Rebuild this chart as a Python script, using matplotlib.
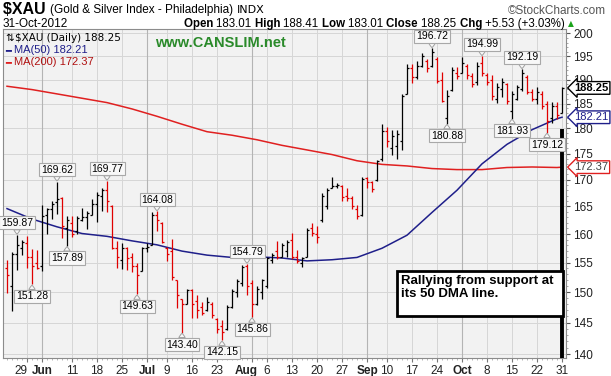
import numpy as np
import pandas as pd
import matplotlib
matplotlib.use("Agg")
import matplotlib.pyplot as plt
import matplotlib.transforms as mtransforms
from matplotlib.patches import Rectangle
from matplotlib.ticker import FixedLocator, FixedFormatter, NullFormatter

# TRADING DAYS 22-May-2012 .. 31-Oct-2012
holidays = ["2012-05-28", "2012-07-04", "2012-09-03", "2012-10-29", "2012-10-30"]
days = pd.bdate_range("2012-05-22", "2012-10-31")
days = days[~days.isin(pd.to_datetime(holidays))]

opens = [154.0, 151.0, 156.5, 157.5, 158.5, 156.0, 155.0, 154.5, 163.5, 164.5,
         165.8, 166.5, 161.0, 162.0, 160.5, 162.5, 163.0, 163.5, 165.5, 167.0,
         168.0, 165.0, 157.5, 155.5, 157.5, 156.0, 154.5, 153.5, 157.5, 158.0,
         163.5, 162.0, 157.5, 157.0, 152.0, 148.8, 148.0, 150.3, 148.5, 147.5,
         147.0, 148.0, 145.5, 144.5, 144.0, 147.5, 150.0, 151.5, 154.5, 151.5,
         148.0, 150.0, 151.0, 155.5, 157.0, 156.0, 157.0, 159.0, 156.0, 155.0,
         156.0, 161.0, 160.0, 162.5, 165.0, 168.5, 168.8, 168.8, 167.0, 166.5,
         164.5, 163.5, 170.3, 169.5, 170.0, 174.0, 179.5, 176.0, 176.5, 177.5,
         187.0, 192.5, 190.5, 193.0, 194.0, 193.0, 194.5, 190.0, 182.0, 187.8,
         191.5, 191.5, 193.0, 190.8, 189.5, 193.5, 191.0, 190.0, 186.0, 188.0,
         189.0, 183.5, 186.0, 188.0, 190.5, 187.5, 186.0, 187.0, 185.0, 182.0,
         184.5, 183.01]
highs = [155.4, 156.9, 159.87, 158.9, 159.7, 157.3, 157.2, 165.3, 164.7, 166.0,
         169.62, 166.7, 163.3, 163.3, 163.3, 164.7, 164.2, 166.3, 167.7, 168.4,
         169.77, 165.2, 158.8, 158.5, 157.7, 156.6, 154.9, 157.8, 158.4, 163.9,
         164.08, 162.2, 157.8, 159.1, 152.0, 148.9, 150.6, 150.6, 149.5, 148.4,
         149.2, 148.4, 145.7, 145.4, 147.9, 150.6, 152.2, 154.6, 154.79, 152.0,
         151.0, 152.2, 156.0, 156.6, 158.8, 158.5, 158.9, 160.2, 157.2, 156.0,
         161.1, 162.0, 161.5, 167.5, 168.4, 170.5, 169.3, 169.0, 168.4, 167.0,
         165.3, 170.5, 170.5, 169.8, 173.8, 180.8, 180.3, 179.6, 179.6, 186.9,
         193.3, 193.3, 194.0, 195.6, 194.5, 196.72, 194.9, 191.7, 187.8, 192.6,
         192.6, 194.9, 193.3, 191.3, 193.7, 194.99, 191.3, 190.9, 189.3, 190.3,
         189.2, 187.6, 188.9, 192.19, 190.9, 188.1, 188.5, 187.6, 185.5, 185.3,
         185.3, 188.41]
lows = [149.9, 146.9, 153.8, 156.3, 154.1, 151.28, 153.9, 153.6, 160.0, 162.7,
        163.7, 159.3, 157.89, 159.5, 160.0, 162.4, 160.9, 163.4, 162.2, 164.2,
        164.0, 157.4, 154.1, 153.9, 153.8, 153.4, 149.63, 153.5, 156.9, 158.0,
        160.6, 158.5, 155.3, 152.0, 147.3, 143.40, 148.0, 145.7, 145.7, 146.3,
        146.8, 145.7, 143.3, 142.15, 143.8, 147.4, 149.2, 151.0, 149.5, 145.86,
        147.9, 148.9, 150.7, 154.9, 155.6, 156.0, 156.0, 155.6, 154.9, 154.3,
        156.0, 159.7, 158.5, 162.2, 164.5, 168.4, 168.4, 166.0, 166.0, 164.5,
        162.7, 163.3, 168.4, 167.7, 169.8, 173.5, 176.3, 174.7, 173.9, 175.6,
        186.9, 189.3, 190.1, 192.6, 191.7, 192.6, 189.3, 185.3, 180.88, 187.6,
        190.1, 191.3, 190.1, 188.5, 188.9, 190.8, 188.9, 185.7, 185.2, 186.4,
        184.9, 181.93, 185.7, 187.6, 186.9, 185.5, 185.0, 183.9, 179.12, 181.0,
        181.8, 183.01]
closes = [152.8, 156.5, 158.0, 158.6, 156.0, 154.5, 154.0, 163.3, 164.5, 165.5,
          166.4, 161.5, 162.5, 160.0, 162.8, 163.0, 163.8, 165.5, 167.2, 168.0,
          166.0, 157.6, 156.0, 157.6, 155.8, 154.5, 152.8, 157.5, 157.8, 163.5,
          162.5, 158.6, 156.5, 152.5, 149.5, 148.0, 150.4, 148.0, 147.0, 146.6,
          148.3, 146.2, 144.0, 143.5, 147.5, 150.2, 151.8, 154.3, 151.0, 148.0,
          150.5, 152.0, 155.8, 156.3, 156.0, 158.0, 158.6, 156.0, 155.3, 155.8,
          160.8, 160.2, 159.5, 167.0, 168.0, 168.8, 169.0, 166.8, 166.5, 165.0,
          163.2, 170.2, 169.5, 168.3, 173.5, 179.5, 177.5, 178.5, 178.8, 186.5,
          192.5, 190.5, 193.0, 195.0, 192.5, 196.0, 189.8, 185.5, 186.5, 192.0,
          190.8, 193.5, 191.0, 189.0, 193.0, 191.5, 189.5, 186.5, 188.5, 189.5,
          185.5, 187.0, 188.5, 191.5, 187.5, 186.0, 187.5, 184.5, 181.5, 184.5,
          182.72, 188.25]

# moving averages every 5 bars
ma_idx = [0, 5, 10, 15, 20, 25, 30, 35, 40, 45, 50, 55, 60, 65, 70, 75, 80, 85,
          90, 95, 100, 105, 110, 111]
ma50 = [164.6, 162.7, 161.3, 160.1, 159.6, 158.8, 158.1, 157.0, 156.3, 155.9,
        156.0, 155.8, 155.3, 155.5, 155.9, 157.5, 159.8, 163.9, 168.0, 173.0,
        176.8, 179.7, 181.9, 182.21]
ma200 = [188.6, 187.9, 187.0, 186.1, 185.2, 183.9, 182.4, 180.8, 179.3, 178.6,
         177.7, 176.6, 175.7, 174.8, 173.6, 172.9, 172.6, 172.1, 171.9, 171.9,
         172.3, 172.4, 172.3, 172.37]

# labelled swing points
high_labels = [2, 10, 20, 30, 48, 85, 95, 103]
low_labels = [5, 12, 26, 35, 43, 49, 88, 101, 108]

tick_dates = ["2012-05-29", "2012-06-01", "2012-06-11", "2012-06-18", "2012-06-25",
              "2012-07-02", "2012-07-09", "2012-07-16", "2012-07-23", "2012-08-01",
              "2012-08-06", "2012-08-13", "2012-08-20", "2012-08-27", "2012-09-04",
              "2012-09-10", "2012-09-17", "2012-09-24", "2012-10-01", "2012-10-08",
              "2012-10-15", "2012-10-22", "2012-10-31"]
tick_labels = ["29", "Jun", "11", "18", "25", "Jul", "9", "16", "23", "Aug", "6",
               "13", "20", "27", "Sep", "10", "17", "24", "Oct", "8", "15", "22", "31"]
price_ticks = [140, 145, 150, 155, 160, 165, 170, 175, 180, 185, 190, 195, 200]

RED = "#e00000"
NAVY = "#1f1f8a"
MA_RED = "#e02020"
W, H = 611, 376

plt.rcParams["font.family"] = ["Liberation Sans", "DejaVu Sans"]

fig = plt.figure(figsize=(W / 100, H / 100), dpi=100)
fig.patch.set_facecolor("white")
ax = fig.add_axes([3 / W, 1 - 358 / H, 563 / W, 329 / H])
ax.set_facecolor("#f2f2f2")

x = np.arange(len(closes))
prev = np.r_[opens[0], closes[:-1]]
cols = [RED if c < p else "black" for c, p in zip(closes, prev)]

ax.set_yscale("log")
ax.set_ylim(139.4, 201.0)
ax.set_xlim(-0.8, 111.8)

# grid
for t in price_ticks:
    ax.axhline(t, color="#d6d6d6", lw=0.7, zorder=0)
tick_pos = [days.get_loc(pd.Timestamp(d)) for d in tick_dates]
for p, lab in zip(tick_pos, tick_labels):
    month = not lab.isdigit()
    ax.axvline(p, color="#b4b4b4" if month else "#d6d6d6", lw=0.8 if month else 0.7, zorder=0)

# moving averages
ax.plot(ma_idx, ma200, color=MA_RED, lw=1.1, zorder=2)
ax.plot(ma_idx, ma50, color=NAVY, lw=1.1, zorder=2)

# OHLC bars
ax.vlines(x, lows, highs, colors=cols, lw=0.9, zorder=3)
ax.hlines(opens, x - 0.45, x, colors=cols, lw=0.9, zorder=3)
ax.hlines(closes, x, x + 0.45, colors=cols, lw=0.9, zorder=3)

# pointer line of the note
ax.vlines(x[-1], 139.4, 179.9, colors="black", lw=2.8, zorder=4)

# swing labels
box = dict(boxstyle="square,pad=0.15", fc="#f8f8f8", ec="#a8a8a8", lw=0.8)
arrow = dict(arrowstyle="wedge,tail_width=0.6,shrink_factor=0.6", fc="#f8f8f8",
             ec="#a0a0a0", lw=0.7, shrinkA=0, shrinkB=0.5)
for i in high_labels:
    ax.annotate(f"{highs[i]:.2f}", xy=(i, highs[i]), xytext=(0, 5),
                textcoords="offset points", ha="center", va="bottom",
                fontsize=7.5, bbox=box, arrowprops=arrow, zorder=5)
for i in low_labels:
    ax.annotate(f"{lows[i]:.2f}", xy=(i, lows[i]), xytext=(0, -5),
                textcoords="offset points", ha="center", va="top",
                fontsize=7.5, bbox=box, arrowprops=arrow, zorder=5)

# axes styling
ax.yaxis.tick_right()
ax.yaxis.set_major_locator(FixedLocator(price_ticks))
ax.yaxis.set_major_formatter(FixedFormatter([str(t) for t in price_ticks]))
ax.yaxis.set_minor_locator(FixedLocator(np.arange(140, 201, 1)))
ax.yaxis.set_minor_formatter(NullFormatter())
ax.tick_params(axis="y", which="major", length=3, labelsize=8.5, colors="#555555",
               labelcolor="#222222", pad=2)
ax.tick_params(axis="y", which="minor", length=1.5, colors="#999999")

ax.set_xticks(tick_pos)
ax.set_xticklabels(tick_labels)
ax.set_xticks(x, minor=True)
ax.tick_params(axis="x", which="major", length=3, labelsize=8.5, colors="#777777",
               labelcolor="#222222", pad=2)
ax.tick_params(axis="x", which="minor", length=1.5, colors="#aaaaaa")
for lab in ax.get_xticklabels():
    txt = lab.get_text()
    if not txt.isdigit():
        lab.set_fontweight("bold")
    if txt in ("29", "Aug"):
        # these two sit a little left of their tick on the original
        lab.set_transform(lab.get_transform() +
                          mtransforms.ScaledTranslation(-6 / 100, 0, fig.dpi_scale_trans))
for s in ax.spines.values():
    s.set_color("#8c8c8c")
    s.set_linewidth(0.8)

# last-value markers on the right
for val, col, txt, bold in [(closes[-1], "black", "188.25", True),
                            (ma50[-1], NAVY, "182.21", False),
                            (ma200[-1], MA_RED, "172.37", False)]:
    ax.annotate(txt, xy=(1.0, val), xycoords=("axes fraction", "data"),
                xytext=(6, 0), textcoords="offset points", ha="left", va="center",
                fontsize=8, fontweight="bold" if bold else "normal",
                color="black" if bold else (NAVY if col == NAVY else "#444444"),
                bbox=dict(boxstyle="larrow,pad=0.12", fc="white", ec=col, lw=1.0),
                annotation_clip=False, zorder=6)

# note box
fig.patches.append(Rectangle((397 / W, 1 - 316 / H), 166 / W, 45 / H,
                             transform=fig.transFigure, fc="white", ec="black",
                             lw=2.0, zorder=10))
fig.text(401 / W, 1 - 275 / H, "Rallying from support at\nits 50 DMA line.",
         fontsize=9.5, fontweight="bold", va="top", ha="left", linespacing=1.15,
         zorder=11)


def put(px, py, parts, ha="left"):
    # lay out (text, kwargs) pieces left to right starting at pixel px
    fig.canvas.draw()
    r = fig.canvas.get_renderer()
    objs = []
    cur = px
    for s, kw in parts:
        t = fig.text(cur / W, 1 - py / H, s, va="center", ha="left", **kw)
        cur += t.get_window_extent(r).width
        objs.append(t)
    if ha == "right":
        shift = cur - px
        for t in objs:
            xx, yy = t.get_position()
            t.set_position((xx - shift / W, yy))


put(3, 10, [("$XAU ", dict(fontsize=11.5, fontweight="bold")),
            ("(Gold & Silver Index - Philadelphia) ", dict(fontsize=8.5)),
            ("INDX", dict(fontsize=8, family="DejaVu Sans"))])
fig.text(606 / W, 1 - 11 / H, "\u00a9StockCharts.com", fontsize=8.5, color="#555555",
         ha="right", va="center")
fig.text(3 / W, 1 - 24 / H, "31-Oct-2012", fontsize=8.5, va="center")
B = dict(fontsize=8.3, fontweight="bold")
N = dict(fontsize=8.3)
put(574, 24, [("Open ", B), ("183.01 ", N), ("High ", B), ("188.41 ", N),
              ("Low ", B), ("183.01 ", N), ("Close ", B), ("188.25 ", N),
              ("Chg ", B), ("+5.53 (+3.03%) ", N),
              ("\u25b2", dict(fontsize=5.5, color="#1aa31a", family="DejaVu Sans"))],
    ha="right")

# legend inside the plot
fig.text(5 / W, 1 - 38 / H, "\u21c5", fontsize=7.5, family="DejaVu Sans", va="center")
fig.text(15 / W, 1 - 38 / H, "$XAU (Daily) 188.25", fontsize=7.5, family="DejaVu Sans",
         va="center")
fig.text(5 / W, 1 - 50 / H, "\u2501", fontsize=7, color=NAVY, va="center", family="DejaVu Sans")
fig.text(14 / W, 1 - 50 / H, "MA(50) 182.21", fontsize=8, color=NAVY, va="center")
fig.text(5 / W, 1 - 62 / H, "\u2501", fontsize=7, color=MA_RED, va="center", family="DejaVu Sans")
fig.text(14 / W, 1 - 62 / H, "MA(200) 172.37", fontsize=8, color="#b01010", va="center")
fig.text(155 / W, 1 - 43 / H, "www.CANSLIM.net", fontsize=10.5, fontweight="bold",
         color="#2a8a2a", va="center")

fig.savefig("out.png", dpi=100)
